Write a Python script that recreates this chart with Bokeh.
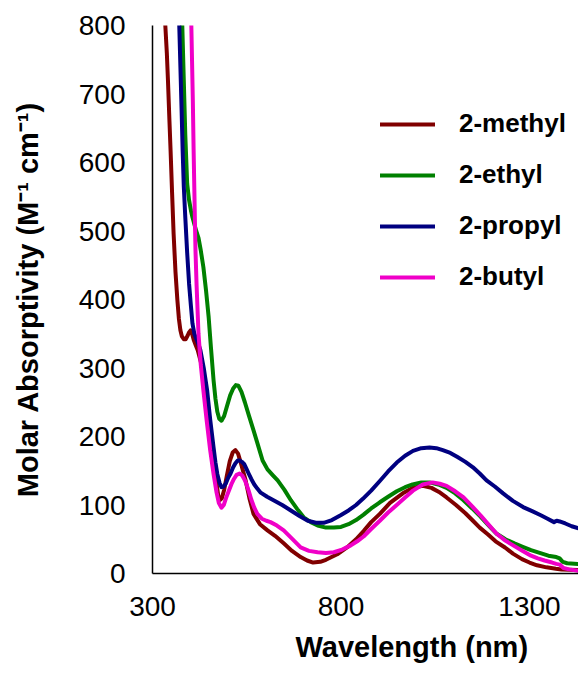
from bokeh.plotting import figure
from bokeh.models import FixedTicker, Legend, LegendItem, Title, Range1d
from bokeh.embed import file_html
from bokeh.resources import INLINE

# ---- data ----
methyl_x = [330, 334, 338, 341, 345, 348, 352, 356, 361, 366, 370, 374, 378, 383, 388, 393, 397, 401,
            405, 410, 415, 420, 430, 440, 450, 460, 468, 474, 478, 484, 490, 497, 505, 513, 520, 527,
            535, 547, 557, 568, 585, 605, 625, 648, 670, 693, 710, 726, 745, 760, 790, 816, 840, 860,
            880, 903, 930, 964, 990, 1017, 1040, 1060, 1080, 1105, 1130, 1150, 1168, 1190, 1210, 1235,
            1256, 1280, 1300, 1320, 1345, 1370, 1385, 1430]
methyl_y = [860, 800, 760, 720, 660, 617, 555, 496, 440, 399, 372, 355, 346, 342, 342, 347, 352, 355,
            350, 340, 333, 326, 305, 275, 230, 178, 140, 115, 107, 110, 122, 142, 164, 177, 180, 175,
            160, 136, 110, 87, 72, 63, 55, 44, 33, 24, 19, 16, 17, 20, 28, 38, 50, 62,
            75, 87, 103, 117, 125, 128, 125, 119, 111, 100, 88, 77, 67, 57, 47, 38,
            29, 21, 16, 12, 9, 7, 6, 5]

ethyl_x = [375, 379, 383, 387, 392, 397, 402, 406, 411, 416, 422, 428, 435, 442, 449, 455, 462, 467,
           472, 477, 483, 490, 498, 506, 514, 521, 528, 536, 545, 556, 568, 580, 592, 605, 620, 632,
           650, 667, 684, 701, 720, 738, 760, 781, 800, 820, 840, 860, 880, 903, 925, 948, 970, 990,
           1013, 1035, 1058, 1080, 1103, 1125, 1148, 1170, 1192, 1213, 1236, 1260, 1282, 1304, 1327,
           1350, 1371, 1380, 1388, 1400, 1430]
ethyl_y = [900, 800, 720, 640, 569, 545, 530, 520, 510, 500, 490, 472, 447, 413, 374, 330, 282, 255,
           236, 226, 223, 230, 245, 260, 270, 275, 274, 265, 250, 230, 209, 187, 165, 152, 143, 136,
           122, 107, 94, 82, 75, 70, 67, 67, 68, 72, 78, 86, 95, 104, 112, 120, 126, 130,
           133, 133, 130, 125, 117, 107, 95, 83, 70, 58, 50, 44, 39, 34, 30,
           26, 24, 22, 17, 15, 14]

propyl_x = [368, 371, 374, 377, 380, 383, 387, 392, 397, 402, 406, 411, 418, 423, 427, 436, 445, 453,
            462, 467, 472, 478, 483, 489, 495, 501, 507, 514, 520, 526, 531, 537, 543, 549, 555, 562,
            570, 578, 587, 604, 621, 644, 667, 690, 712, 733, 754, 776, 799, 820, 840, 858, 880, 903,
            925, 948, 970, 991, 1013, 1035, 1053, 1070, 1090, 1109, 1130, 1150, 1168, 1186, 1208,
            1230, 1256, 1283, 1307, 1330, 1348, 1365, 1372, 1380, 1395, 1412, 1430]
propyl_y = [900, 800, 740, 680, 617, 565, 520, 468, 423, 390, 365, 350, 340, 333, 326, 300, 267, 225,
            184, 162, 145, 132, 126, 127, 132, 140, 146, 155, 161, 165, 165, 163, 160, 153, 146, 138,
            130, 124, 118, 112, 107, 100, 92, 84, 77, 74, 74, 78, 85, 92, 100, 109, 121, 135,
            149, 162, 172, 179, 183, 184, 183, 180, 176, 170, 163, 155, 146, 136, 127,
            117, 106, 97, 91, 85, 80, 75, 77, 76, 73, 69, 66]

butyl_x = [401, 403, 405, 407, 409, 411, 413, 414, 417, 422, 428, 435, 444, 453, 462, 470, 476, 483,
           489, 495, 502, 509, 516, 523, 531, 538, 545, 550, 555, 562, 570, 578, 590, 602, 613, 630,
           648, 670, 693, 715, 738, 760, 781, 803, 826, 843, 860, 880, 903, 925, 950, 970, 991, 1017,
           1043, 1062, 1080, 1103, 1125, 1148, 1170, 1192, 1213, 1236, 1260, 1282, 1304, 1322, 1340,
           1360, 1371, 1380, 1390, 1405, 1430]
butyl_y = [900, 800, 745, 690, 620, 560, 500, 472, 420, 350, 305, 267, 222, 180, 145, 118, 103, 96,
           100, 110, 120, 130, 138, 144, 146, 143, 136, 129, 121, 108, 96, 87, 80, 77, 75, 70,
           63, 51, 38, 33, 31, 30, 31, 35, 41, 47, 54, 65, 77, 89, 101, 111, 121, 130,
           133, 131, 128, 120, 111, 98, 85, 71, 58, 48, 40, 33, 26, 22, 19,
           16, 14, 13, 8, 6, 4]

series_names = ["2-methyl", "2-ethyl", "2-propyl", "2-butyl"]
series_colors = ["#800000", "#008000", "#000080", "#F000C8"]

x_ticks = [300, 800, 1300]
y_ticks = [0, 100, 200, 300, 400, 500, 600, 700, 800]

FONT = "Liberation Sans"

p = figure(width=578, height=673, output_backend="svg", toolbar_location=None,
           x_range=Range1d(300, 1430), y_range=Range1d(0, 800),
           min_border_left=152, min_border_top=25, min_border_right=0, min_border_bottom=100)
p.outline_line_color = None
p.grid.visible = False
p.background_fill_color = "white"
p.border_fill_color = "white"

renderers = []
for xs, ys, c in zip([methyl_x, ethyl_x, propyl_x, butyl_x],
                     [methyl_y, ethyl_y, propyl_y, butyl_y], series_colors):
    r = p.line(xs, ys, line_color=c, line_width=4, line_join="round", line_cap="round")
    renderers.append(r)

for ax in (p.xaxis[0], p.yaxis[0]):
    ax.major_tick_out = 0
    ax.major_tick_in = 0
    ax.minor_tick_out = 0
    ax.minor_tick_in = 0
    ax.axis_line_color = "black"
    ax.axis_line_width = 1.5
    ax.major_label_text_font = FONT
    ax.major_label_text_font_size = "28px"
    ax.major_label_text_color = "black"

p.xaxis.ticker = FixedTicker(ticks=x_ticks)
p.yaxis.ticker = FixedTicker(ticks=y_ticks)
p.xaxis.major_label_standoff = 23
p.yaxis.major_label_standoff = 27

p.yaxis.axis_label = "Molar Absorptivity (M\u207b\u00b9 cm\u207b\u00b9)"
p.yaxis.axis_label_text_font = FONT
p.yaxis.axis_label_text_font_style = "bold"
p.yaxis.axis_label_text_font_size = "29px"
p.yaxis.axis_label_standoff = 32
p.yaxis.axis_label_text_color = "black"

xt = Title(text="Wavelength (nm)", align="left", offset=143, standoff=21,
           text_font=FONT, text_font_style="bold", text_font_size="29px", text_color="black")
p.add_layout(xt, "below")

items = [LegendItem(label=n, renderers=[r]) for n, r in zip(series_names, renderers)]
legend = Legend(items=items, location=(228, 281), glyph_width=55, glyph_height=30,
                label_height=30, spacing=20, label_standoff=24, padding=0, margin=0,
                border_line_alpha=0, background_fill_alpha=0,
                label_text_font=FONT, label_text_font_style="bold",
                label_text_font_size="26px", label_text_color="black")
p.add_layout(legend, "center")

open("out.html", "w").write(file_html(p, INLINE))
